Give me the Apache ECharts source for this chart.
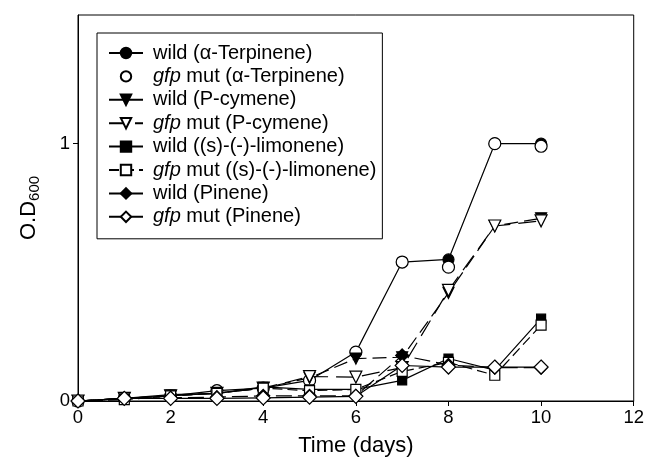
<!DOCTYPE html>
<html>
<head>
<meta charset="UTF-8">
<title>O.D600 vs time</title>
<script src="https://cdn.jsdelivr.net/npm/echarts@6/dist/echarts.min.js"></script>
<style>
  body { margin: 0; background: #fff; }
  #main { width: 647px; height: 462px; }
</style>
</head>
<body>
<div id="main"></div>
<script>
// days 0..10
const days = [0, 1, 2, 3, 4, 5, 6, 7, 8, 9, 10];

const wildTerpinene = [0, 0.01, 0.02, 0.04, 0.05, 0.08, 0.19, 0.54, 0.55, 1.0, 1.0];
const gfpTerpinene  = [0, 0.01, 0.02, 0.04, 0.05, 0.08, 0.19, 0.54, 0.52, 1.0, 0.99];
const wildCymene    = [0, 0.01, 0.02, 0.03, 0.05, 0.09, 0.165, 0.17, 0.42, 0.68, 0.71];
const gfpCymene     = [0, 0.01, 0.02, 0.03, 0.05, 0.095, 0.093, 0.13, 0.43, 0.68, 0.70];
const wildLimonene  = [0, 0.01, 0.025, 0.03, 0.055, 0.045, 0.045, 0.08, 0.165, 0.12, 0.32];
const gfpLimonene   = [0, 0.005, 0.02, 0.03, 0.05, 0.04, 0.045, 0.115, 0.15, 0.10, 0.295];
const wildPinene    = [0, 0.01, 0.012, 0.015, 0.02, 0.02, 0.02, 0.177, 0.14, 0.13, 0.13];
const gfpPinene     = [0, 0.01, 0.01, 0.01, 0.012, 0.015, 0.018, 0.138, 0.132, 0.132, 0.132];

const seriesNames = [
  'wild (α-Terpinene)', 'gfp mut (α-Terpinene)',
  'wild (P-cymene)', 'gfp mut (P-cymene)',
  'wild ((s)-(-)-limonene)', 'gfp mut ((s)-(-)-limonene)',
  'wild (Pinene)', 'gfp mut (Pinene)'
];

const FONT = 'Liberation Sans, Arial, sans-serif';

function pairs(vals) {
  return days.map((d, i) => [d, vals[i]]);
}

function mkSeries(name, vals, symbol, size, filled, lineType, rotate) {
  return {
    name: name,
    type: 'line',
    data: pairs(vals),
    symbol: symbol,
    symbolSize: size,
    symbolRotate: rotate || 0,
    showAllSymbol: true,
    lineStyle: {
      color: '#000',
      width: lineType === 'none' ? 0 : 1.2,
      type: lineType === 'none' ? 'solid' : lineType,
      opacity: lineType === 'none' ? 0 : 1
    },
    itemStyle: {
      color: filled ? '#000' : '#fff',
      borderColor: '#000',
      borderWidth: 1.2,
      opacity: 1
    },
    emphasis: { disabled: true },
    animation: false
  };
}

const chart = echarts.init(document.getElementById('main'));

chart.setOption({
  backgroundColor: '#fff',
  textStyle: { fontFamily: FONT, color: '#000' },
  grid: {
    left: 78, right: 11, top: 15, bottom: 58,
    show: true, borderColor: '#000', borderWidth: 1
  },
  legend: {
    orient: 'vertical',
    left: 97, top: 33,
    width: 285,
    padding: [10, 6, 12, 11],
    itemWidth: 34, itemHeight: 13,
    itemGap: 3.4,
    borderColor: '#000', borderWidth: 1,
    backgroundColor: '#fff',
    data: seriesNames,
    formatter: function (name) {
      if (name.indexOf('gfp ') === 0) {
        return '{i|gfp}{t|' + name.slice(3) + '}';
      }
      return '{t|' + name + '}';
    },
    textStyle: {
      fontSize: 20, color: '#000', lineHeight: 20,
      fontFamily: FONT,
      padding: [0, 0, 0, 5],
      rich: {
        i: { fontSize: 20, lineHeight: 20, fontStyle: 'italic', color: '#000', fontFamily: FONT },
        t: { fontSize: 20, lineHeight: 20, color: '#000', fontFamily: FONT }
      }
    }
  },
  xAxis: {
    type: 'value',
    min: 0, max: 12, interval: 2,
    name: 'Time (days)',
    nameLocation: 'middle',
    nameGap: 34,
    nameTextStyle: { fontSize: 22, color: '#000' },
    axisLine: { onZero: false, lineStyle: { color: '#000', width: 1 } },
    axisTick: { show: true, inside: false, length: 5, lineStyle: { color: '#000' } },
    axisLabel: { fontSize: 18.5, color: '#000', margin: 7 },
    splitLine: { show: false }
  },
  yAxis: {
    type: 'value',
    min: 0, max: 1.5, interval: 1,
    name: '{a|O.D}{b|600}',
    nameLocation: 'middle',
    nameGap: 36,
    nameRotate: 90,
    nameTextStyle: {
      rich: {
        a: { fontSize: 22, color: '#000', lineHeight: 26, fontFamily: FONT },
        b: { fontSize: 15, color: '#000', lineHeight: 26, verticalAlign: 'bottom',
             padding: [9, 0, 0, 0], fontFamily: FONT }
      }
    },
    axisLine: { onZero: false, lineStyle: { color: '#000', width: 1 } },
    axisTick: { show: true, inside: false, length: 5, customValues: [0, 1], lineStyle: { color: '#000' } },
    axisLabel: { fontSize: 18.5, color: '#000', margin: 8, customValues: [0, 1] },
    splitLine: { show: false }
  },
  series: [
    mkSeries(seriesNames[0], wildTerpinene, 'circle', 11, true, 'solid'),
    mkSeries(seriesNames[1], gfpTerpinene, 'circle', 12, false, 'none'),
    mkSeries(seriesNames[2], wildCymene, 'triangle', 11, true, [14, 6], 180),
    mkSeries(seriesNames[3], gfpCymene, 'triangle', 12, false, [18, 8], 180),
    mkSeries(seriesNames[4], wildLimonene, 'rect', 9, true, 'solid'),
    mkSeries(seriesNames[5], gfpLimonene, 'rect', 10, false, [10, 5]),
    mkSeries(seriesNames[6], wildPinene, 'diamond', 13, true, [16, 6]),
    mkSeries(seriesNames[7], gfpPinene, 'diamond', 14, false, 'solid')
  ]
});
</script>
</body>
</html>
